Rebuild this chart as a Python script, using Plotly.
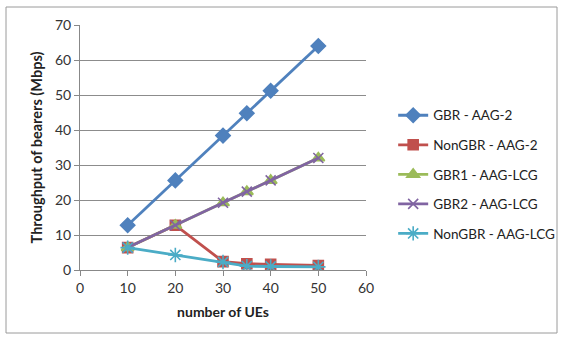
import plotly.graph_objects as go

# Number of UEs
ues = [10, 20, 30, 35, 40, 50]

# Throughput per bearer type (Mbps)
gbr_aag2 = [12.8, 25.6, 38.4, 44.8, 51.2, 64.0]
nongbr_aag2 = [6.4, 12.8, 2.4, 1.8, 1.6, 1.3]
gbr1_lcg = [6.4, 12.8, 19.2, 22.4, 25.6, 32.0]
gbr2_lcg = [6.4, 12.8, 19.2, 22.4, 25.6, 32.0]
nongbr_lcg = [6.4, 4.3, 2.3, 1.1, 1.0, 0.9]

series = [
    ("GBR - AAG-2", gbr_aag2, "#4F81BD", "diamond", 11),
    ("NonGBR - AAG-2", nongbr_aag2, "#C0504D", "square", 10),
    ("GBR1 - AAG-LCG", gbr1_lcg, "#9BBB59", "triangle-up", 11),
    ("GBR2 - AAG-LCG", gbr2_lcg, "#8064A2", "x-thin", 10),
    ("NonGBR - AAG-LCG", nongbr_lcg, "#4BACC6", "asterisk", 12),
]

fig = go.Figure()
for i, (name, vals, color, sym, size) in enumerate(series):
    fig.add_trace(go.Scatter(
        x=ues, y=vals, name=name, mode="lines+markers",
        legendgroup=f"g{i}",
        line=dict(color=color, width=2.8),
        marker=dict(symbol=sym, size=size, color=color,
                    line=dict(color=color, width=1.6)),
    ))

font = "Lato, Open Sans, sans-serif"
fig.update_layout(
    width=564, height=343,
    margin=dict(l=80, r=198, t=25, b=73, autoexpand=False),
    paper_bgcolor="white", plot_bgcolor="white",
    font=dict(family=font, size=14, color="#333333"),
    showlegend=True,
    legend=dict(x=1.095, y=0.39, xanchor="left", yanchor="middle",
                font=dict(size=13.5, color="#222222"),
                tracegroupgap=9, itemwidth=30,
                bgcolor="rgba(0,0,0,0)"),
    xaxis=dict(range=[0, 60], dtick=10, showgrid=False,
               showline=True, linecolor="#888888", linewidth=1,
               ticks="outside", ticklen=5, tickcolor="#888888",
               zeroline=False, fixedrange=True,
               title=dict(text="<b>number of UEs</b>", font=dict(size=14, color="#222222"), standoff=12)),
    yaxis=dict(range=[0, 70], dtick=10, showgrid=True, gridcolor="#8c8c8c", gridwidth=1,
               showline=True, linecolor="#888888", linewidth=1,
               ticks="outside", ticklen=5, tickcolor="#888888",
               zeroline=False, fixedrange=True,
               title=dict(text="<b>Throughput of bearers (Mbps)</b>", font=dict(size=14.5, color="#222222"), standoff=8)),
)

# Chart-area frame
fig.add_shape(type="rect", xref="paper", yref="paper",
              x0=(6 - 80) / 286, x1=(557 - 80) / 286,
              y0=(270 - 333) / 245, y1=(270 - 7) / 245,
              line=dict(color="#9a9a9a", width=1), layer="below")

fig.write_html("out.html")
